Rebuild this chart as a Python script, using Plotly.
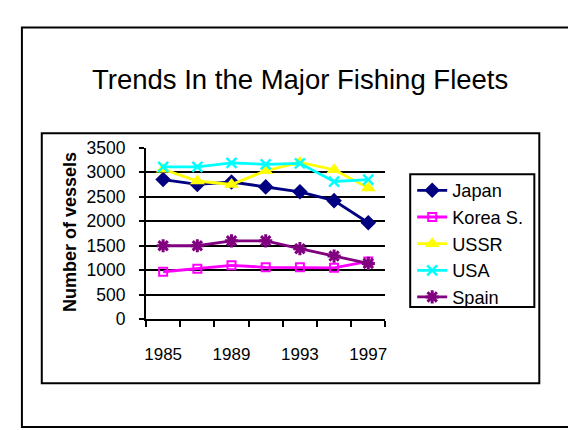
import plotly.graph_objects as go

years = [1985, 1987, 1989, 1991, 1993, 1995, 1997]
year_labels = [1985, 1989, 1993, 1997]
japan = [2850, 2750, 2800, 2700, 2600, 2420, 1970]
korea = [970, 1030, 1100, 1060, 1060, 1050, 1180]
ussr = [3060, 2820, 2750, 3030, 3200, 3050, 2680]
usa = [3110, 3110, 3190, 3160, 3180, 2810, 2850]
spain = [1500, 1500, 1600, 1600, 1440, 1290, 1140]
y_ticks = [0, 500, 1000, 1500, 2000, 2500, 3000, 3500]
grid_vals = [500, 1000, 1500, 2000, 2500, 3000]

W, H = 576, 430
FONT = "Liberation Sans, Arial, sans-serif"

def px_x(p):
    return p / W

def px_y(p):
    return 1 - p / H

series = [
    ("Japan", japan, "#000080", dict(symbol="diamond", size=12, color="#000080")),
    ("Korea S.", korea, "#FF00FF", dict(symbol="square-open", size=8, color="#FF00FF", line=dict(width=2, color="#FF00FF"))),
    ("USSR", ussr, "#FFFF00", dict(symbol="triangle-up", size=13, color="#FFFF00")),
    ("USA", usa, "#00FFFF", dict(symbol="x-thin-open", size=10, color="#00FFFF", line=dict(width=2.5, color="#00FFFF"))),
    ("Spain", spain, "#800080", dict(symbol="asterisk-open", size=11, color="#800080", line=dict(width=3, color="#800080"))),
]

fig = go.Figure()
for name, vals, col, mk in series:
    fig.add_trace(go.Scatter(x=years, y=vals, name=name, mode="lines+markers",
                             line=dict(color=col, width=2.8), marker=mk))

fig.update_layout(
    width=W, height=H,
    margin=dict(l=0, r=0, t=0, b=0),
    paper_bgcolor="white", plot_bgcolor="white",
    font=dict(family=FONT, color="black", size=17),
    showlegend=True,
    legend=dict(x=px_x(405), y=px_y(161.5), xanchor="left", yanchor="top",
                borderwidth=0, bgcolor="rgba(0,0,0,0)",
                font=dict(family=FONT, size=18.2, color="black"),
                tracegroupgap=0),
    xaxis=dict(domain=[px_x(137), px_x(378)], range=[1984, 1998],
               tickvals=year_labels, ticktext=[str(v) for v in year_labels],
               ticks="", showgrid=False, zeroline=False,
               showline=True, linecolor="black", linewidth=2,
               ticklabelstandoff=18,
               minor=dict(tick0=1984, dtick=2, ticks="outside", ticklen=6,
                          tickwidth=2, tickcolor="black", showgrid=False),
               tickfont=dict(family=FONT, size=17)),
    yaxis=dict(domain=[px_y(316), px_y(136)], range=[0, 3500],
               tickvals=grid_vals, showticklabels=False, ticks="",
               showgrid=True, gridcolor="black", gridwidth=1.5,
               zeroline=False, showline=False),
    yaxis2=dict(overlaying="y", side="left", range=[0, 3500],
                tickvals=y_ticks, ticktext=[str(v) for v in y_ticks],
                ticks="outside", ticklen=5, tickwidth=2, tickcolor="black",
                showgrid=False, zeroline=False, showline=True,
                linecolor="black", linewidth=2, ticklabelstandoff=10,
                tickfont=dict(family=FONT, size=17.5)),
    shapes=[
        dict(type="line", xref="paper", yref="paper",
             x0=px_x(574.5), x1=px_x(574.5), y0=px_y(430), y1=px_y(12),
             line=dict(color="#8a8a8a", width=3), layer="below"),
        dict(type="rect", xref="paper", yref="paper",
             x0=px_x(12), x1=px_x(572), y0=px_y(429), y1=px_y(10),
             line=dict(color="black", width=2), layer="below"),
        dict(type="rect", xref="paper", yref="paper",
             x0=px_x(32), x1=px_x(533), y0=px_y(383), y1=px_y(121),
             line=dict(color="black", width=2), layer="below"),
        # legend frame
        dict(type="rect", xref="paper", yref="paper",
             x0=px_x(403), x1=px_x(528), y0=px_y(303), y1=px_y(164),
             line=dict(color="black", width=2), layer="below"),
    ],
    annotations=[
        dict(text="Trends In the Major Fishing Fleets", xref="paper", yref="paper",
             x=px_x(292), y=px_y(64.5), xanchor="center", yanchor="middle",
             showarrow=False, font=dict(family=FONT, size=27.5, color="black")),
        dict(text="<b>Number of vessels</b>", xref="paper", yref="paper",
             x=px_x(60), y=px_y(225), xanchor="center", yanchor="middle",
             textangle=-90, showarrow=False,
             font=dict(family=FONT, size=18, color="black")),
    ],
)
# invisible helper trace so the overlay axis carrying the labels is rendered
fig.add_trace(go.Scatter(x=[years[0]], y=[y_ticks[0]], yaxis="y2", mode="markers",
                         marker=dict(opacity=0), showlegend=False, hoverinfo="skip"))

fig.write_html("out.html")
